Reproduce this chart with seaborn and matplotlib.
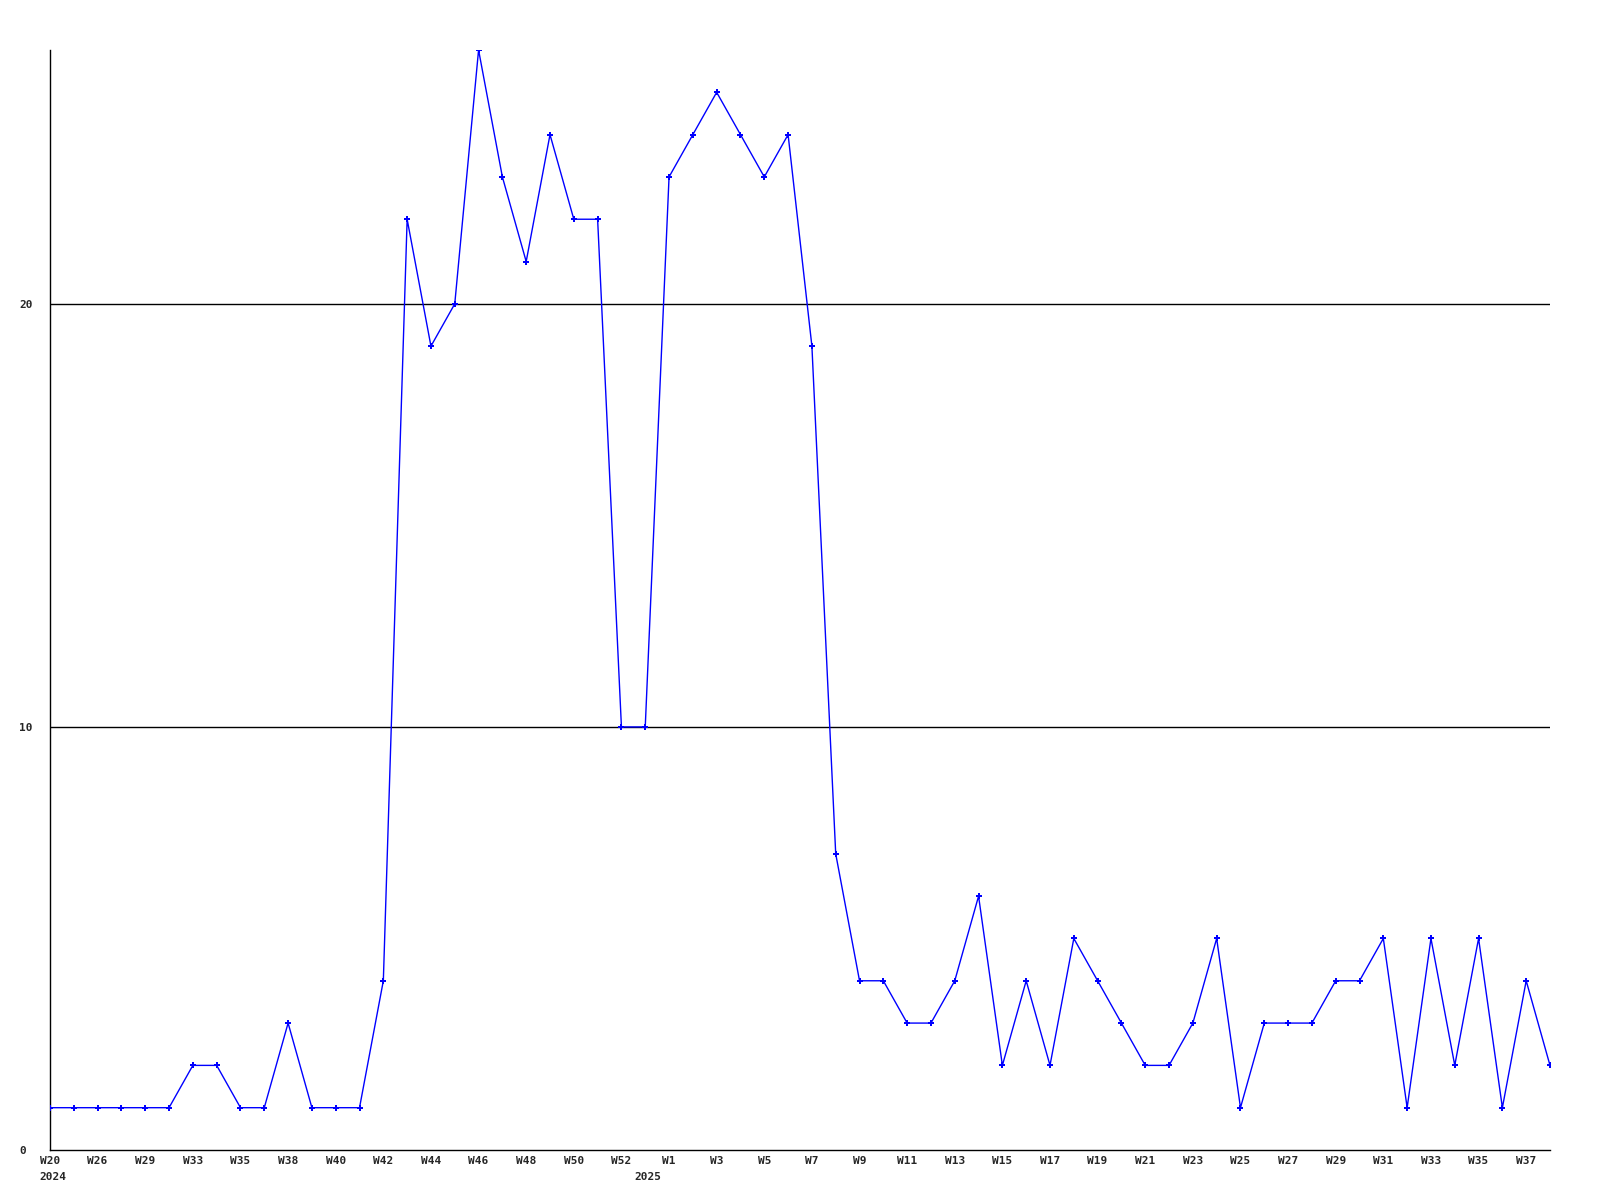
import numpy as np
import pandas as pd
import seaborn as sns
import matplotlib.pyplot as plt

# ===== data =====
values = [1, 1, 1, 1, 1, 1, 2, 2, 1, 1, 3, 1, 1, 1, 4, 22,
          19, 20, 26, 23, 21, 24, 22, 22, 10, 10, 23, 24, 25, 24, 23, 24,
          19, 7, 4, 4, 3, 3, 4, 6, 2, 4, 2, 5, 4, 3, 2, 2,
          3, 5, 1, 3, 3, 3, 4, 4, 5, 1, 5, 2, 5, 1, 4, 2]

# a label on every second point
tick_labels = ['W20', 'W26', 'W29', 'W33', 'W35', 'W38', 'W40', 'W42',
               'W44', 'W46', 'W48', 'W50', 'W52', 'W1', 'W3', 'W5',
               'W7', 'W9', 'W11', 'W13', 'W15', 'W17', 'W19', 'W21',
               'W23', 'W25', 'W27', 'W29', 'W31', 'W33', 'W35', 'W37']
years = ['2024', '2025']
year_start_idx = [0, 25]
y_ticks = [0, 10, 20]

df = pd.DataFrame({'idx': np.arange(len(values)), 'count': values})

# ===== figure =====
sns.set_style("white")
plt.rcParams['font.family'] = ['DejaVu Sans Mono']

fig = plt.figure(figsize=(16, 12), dpi=100)
ax = fig.add_axes([50 / 1600, 1 - 1150 / 1200, 1500 / 1600, 1100 / 1200])

for y in y_ticks[1:]:
    ax.axhline(y, color='black', lw=1.0, zorder=1)

sns.lineplot(data=df, x='idx', y='count', ax=ax, color='#0000ff', lw=1.0,
             marker='P', markersize=5, markeredgewidth=0, zorder=3)

ax.set_xlim(0, len(values) - 1)
ax.set_ylim(0, 26)
ax.set_xticks(np.arange(0, len(values), 2))
ax.set_xticklabels(tick_labels, fontsize=8, fontweight='bold')
ax.set_yticks(y_ticks)
ax.set_yticklabels([str(y) for y in y_ticks], fontsize=8, fontweight='bold', ha='left')
ax.tick_params(axis='x', length=0, pad=4)
ax.tick_params(axis='y', length=0, pad=22)
ax.set_xlabel('')
ax.set_ylabel('')

# year under the first week of each year
for yr, i in zip(years, year_start_idx):
    ax.annotate(yr, xy=(i, 0), xycoords=ax.get_xaxis_transform(),
                xytext=(-8, -19.5), textcoords='offset points',
                ha='left', va='center', fontsize=8, fontweight='bold',
                annotation_clip=False)

for side in ['top', 'right']:
    ax.spines[side].set_visible(False)
for side in ['left', 'bottom']:
    ax.spines[side].set_color('black')
    ax.spines[side].set_linewidth(1.0)

fig.savefig('out.png', dpi=100)
